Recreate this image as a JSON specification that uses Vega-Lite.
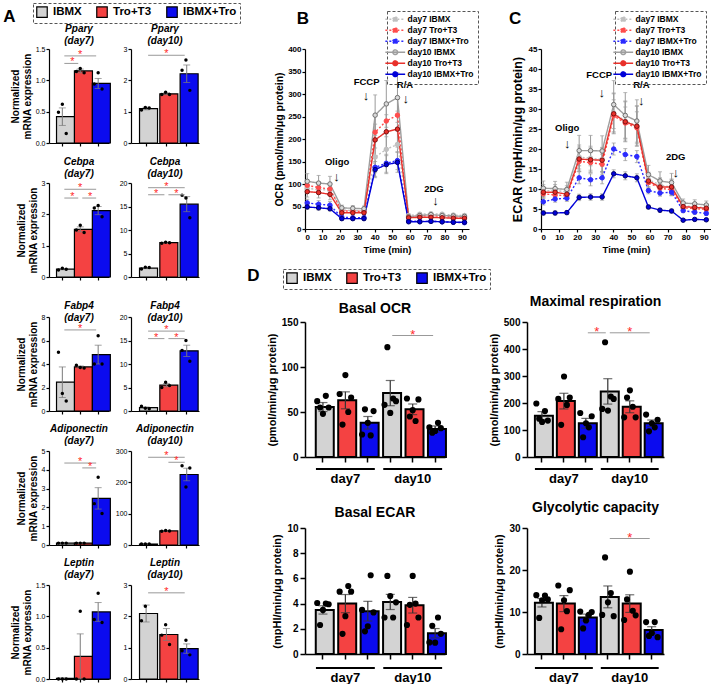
{
"$schema":"https://vega.github.io/schema/vega-lite/v6.json",
"background":"white",
"padding":{"left":3,"top":2,"right":0,"bottom":0},
"config":{
 "font":"Liberation Sans",
 "view":{"stroke":null},
 "axis":{"grid":false,"labelOverlap":false,"domainColor":"#000","tickColor":"#000","labelColor":"#000","titleColor":"#000","labelFontWeight":"bold","titleFontWeight":"bold","labelFont":"Liberation Sans","titleFont":"Liberation Sans","domainWidth":1.2,"tickWidth":1.2,"tickSize":3,"labelFontSize":7,"labelPadding":1,"titlePadding":3,"titleFontSize":10,"labelAngle":0},
 "legend":{"strokeColor":"#555","strokeDash":[3,2],"labelFont":"Liberation Sans","labelColor":"#000","labelFontWeight":"bold"},
 "title":{"font":"Liberation Sans","fontWeight":"bold","color":"#000"},
 "text":{"font":"Liberation Sans"}
},
"datasets":{
"aBar":[
{"p":"ppd7","g":"IBMX","m":0.42,"s":0.14},{"p":"ppd7","g":"Tro+T3","m":1.15,"s":0.03},{"p":"ppd7","g":"IBMX+Tro","m":0.95,"s":0.08},
{"p":"ppd10","g":"IBMX","m":1.1,"s":0.04},{"p":"ppd10","g":"Tro+T3","m":1.57,"s":0.03},{"p":"ppd10","g":"IBMX+Tro","m":2.21,"s":0.28},
{"p":"ced7","g":"IBMX","m":0.25,"s":0.02},{"p":"ced7","g":"Tro+T3","m":1.52,"s":0.08},{"p":"ced7","g":"IBMX+Tro","m":2.12,"s":0.13},
{"p":"ced10","g":"IBMX","m":1.9,"s":0.12},{"p":"ced10","g":"Tro+T3","m":7.3,"s":0.1},{"p":"ced10","g":"IBMX+Tro","m":15.5,"s":1.6},
{"p":"fad7","g":"IBMX","m":2.45,"s":1.3},{"p":"fad7","g":"Tro+T3","m":3.75,"s":0.08},{"p":"fad7","g":"IBMX+Tro","m":4.8,"s":0.8},
{"p":"fad10","g":"IBMX","m":0.7,"s":0.15},{"p":"fad10","g":"Tro+T3","m":5.5,"s":0.35},{"p":"fad10","g":"IBMX+Tro","m":12.8,"s":1.2},
{"p":"add7","g":"IBMX","m":0.1,"s":0.01},{"p":"add7","g":"Tro+T3","m":0.1,"s":0.01},{"p":"add7","g":"IBMX+Tro","m":2.48,"s":0.57},
{"p":"add10","g":"IBMX","m":3,"s":0.5},{"p":"add10","g":"Tro+T3","m":45,"s":0.7},{"p":"add10","g":"IBMX+Tro","m":225,"s":20},
{"p":"led7","g":"IBMX","m":0.01,"s":0},{"p":"led7","g":"Tro+T3","m":0.36,"s":0.36},{"p":"led7","g":"IBMX+Tro","m":1.07,"s":0.15},
{"p":"led10","g":"IBMX","m":2.09,"s":0.27},{"p":"led10","g":"Tro+T3","m":1.42,"s":0.19},{"p":"led10","g":"IBMX+Tro","m":0.97,"s":0.15}
],
"aPt":[
{"p":"ppd7","g":"IBMX","r":1,"v":0.49},{"p":"ppd7","g":"IBMX","r":2,"v":0.62},{"p":"ppd7","g":"IBMX","r":3,"v":0.15},
{"p":"ppd7","g":"Tro+T3","r":1,"v":1.14},{"p":"ppd7","g":"Tro+T3","r":2,"v":1.19},{"p":"ppd7","g":"Tro+T3","r":3,"v":1.12},
{"p":"ppd7","g":"IBMX+Tro","r":1,"v":0.94},{"p":"ppd7","g":"IBMX+Tro","r":2,"v":1.12},{"p":"ppd7","g":"IBMX+Tro","r":3,"v":0.86},
{"p":"ppd10","g":"IBMX","r":1,"v":1.05},{"p":"ppd10","g":"IBMX","r":2,"v":1.13},{"p":"ppd10","g":"IBMX","r":3,"v":1.12},
{"p":"ppd10","g":"Tro+T3","r":1,"v":1.55},{"p":"ppd10","g":"Tro+T3","r":2,"v":1.62},{"p":"ppd10","g":"Tro+T3","r":3,"v":1.55},
{"p":"ppd10","g":"IBMX+Tro","r":1,"v":2.32},{"p":"ppd10","g":"IBMX+Tro","r":2,"v":2.65},{"p":"ppd10","g":"IBMX+Tro","r":3,"v":1.68},
{"p":"ced7","g":"IBMX","r":1,"v":0.22},{"p":"ced7","g":"IBMX","r":2,"v":0.28},{"p":"ced7","g":"IBMX","r":3,"v":0.25},
{"p":"ced7","g":"Tro+T3","r":1,"v":1.5},{"p":"ced7","g":"Tro+T3","r":2,"v":1.65},{"p":"ced7","g":"Tro+T3","r":3,"v":1.42},
{"p":"ced7","g":"IBMX+Tro","r":1,"v":2.2},{"p":"ced7","g":"IBMX+Tro","r":2,"v":2.28},{"p":"ced7","g":"IBMX+Tro","r":3,"v":1.92},
{"p":"ced10","g":"IBMX","r":1,"v":1.7},{"p":"ced10","g":"IBMX","r":2,"v":2.1},{"p":"ced10","g":"IBMX","r":3,"v":2.0},
{"p":"ced10","g":"Tro+T3","r":1,"v":7.2},{"p":"ced10","g":"Tro+T3","r":2,"v":7.4},{"p":"ced10","g":"Tro+T3","r":3,"v":7.3},
{"p":"ced10","g":"IBMX+Tro","r":1,"v":17.4},{"p":"ced10","g":"IBMX+Tro","r":2,"v":16.8},{"p":"ced10","g":"IBMX+Tro","r":3,"v":12.6},
{"p":"fad7","g":"IBMX","r":1,"v":5.0},{"p":"fad7","g":"IBMX","r":2,"v":1.5},{"p":"fad7","g":"IBMX","r":3,"v":0.85},
{"p":"fad7","g":"Tro+T3","r":1,"v":3.9},{"p":"fad7","g":"Tro+T3","r":2,"v":3.7},{"p":"fad7","g":"Tro+T3","r":3,"v":3.65},
{"p":"fad7","g":"IBMX+Tro","r":1,"v":4.0},{"p":"fad7","g":"IBMX+Tro","r":2,"v":6.4},{"p":"fad7","g":"IBMX+Tro","r":3,"v":4.0},
{"p":"fad10","g":"IBMX","r":1,"v":1.0},{"p":"fad10","g":"IBMX","r":2,"v":0.6},{"p":"fad10","g":"IBMX","r":3,"v":0.5},
{"p":"fad10","g":"Tro+T3","r":1,"v":5.0},{"p":"fad10","g":"Tro+T3","r":2,"v":6.1},{"p":"fad10","g":"Tro+T3","r":3,"v":5.4},
{"p":"fad10","g":"IBMX+Tro","r":1,"v":12.9},{"p":"fad10","g":"IBMX+Tro","r":2,"v":15.0},{"p":"fad10","g":"IBMX+Tro","r":3,"v":10.6},
{"p":"add7","g":"IBMX","r":1,"v":0.1},{"p":"add7","g":"IBMX","r":2,"v":0.1},{"p":"add7","g":"IBMX","r":3,"v":0.1},
{"p":"add7","g":"Tro+T3","r":1,"v":0.1},{"p":"add7","g":"Tro+T3","r":2,"v":0.1},{"p":"add7","g":"Tro+T3","r":3,"v":0.1},
{"p":"add7","g":"IBMX+Tro","r":1,"v":2.2},{"p":"add7","g":"IBMX+Tro","r":2,"v":3.6},{"p":"add7","g":"IBMX+Tro","r":3,"v":1.68},
{"p":"add10","g":"IBMX","r":1,"v":3},{"p":"add10","g":"IBMX","r":2,"v":3},{"p":"add10","g":"IBMX","r":3,"v":3},
{"p":"add10","g":"Tro+T3","r":1,"v":44},{"p":"add10","g":"Tro+T3","r":2,"v":46},{"p":"add10","g":"Tro+T3","r":3,"v":45},
{"p":"add10","g":"IBMX+Tro","r":1,"v":253},{"p":"add10","g":"IBMX+Tro","r":2,"v":185},{"p":"add10","g":"IBMX+Tro","r":3,"v":246},
{"p":"led7","g":"IBMX","r":1,"v":0},{"p":"led7","g":"IBMX","r":2,"v":0},{"p":"led7","g":"IBMX","r":3,"v":0},
{"p":"led7","g":"Tro+T3","r":1,"v":0},{"p":"led7","g":"Tro+T3","r":2,"v":1.08},{"p":"led7","g":"Tro+T3","r":3,"v":0},
{"p":"led7","g":"IBMX+Tro","r":1,"v":0.95},{"p":"led7","g":"IBMX+Tro","r":2,"v":1.37},{"p":"led7","g":"IBMX+Tro","r":3,"v":0.9},
{"p":"led10","g":"IBMX","r":1,"v":1.86},{"p":"led10","g":"IBMX","r":2,"v":2.32},
{"p":"led10","g":"Tro+T3","r":1,"v":1.4},{"p":"led10","g":"Tro+T3","r":2,"v":1.73},{"p":"led10","g":"Tro+T3","r":3,"v":1.1},
{"p":"led10","g":"IBMX+Tro","r":1,"v":0.9},{"p":"led10","g":"IBMX+Tro","r":2,"v":1.24},{"p":"led10","g":"IBMX+Tro","r":3,"v":0.77}
],
"aSig":[
{"p":"ppd7","a":"IBMX","b":"Tro+T3","c":"IBMX","h":1,"y":1.27},{"p":"ppd7","a":"IBMX","b":"IBMX+Tro","c":"Tro+T3","h":0,"y":1.39},
{"p":"ppd10","a":"IBMX","b":"IBMX+Tro","c":"Tro+T3","h":0,"y":2.8},
{"p":"ced7","a":"IBMX","b":"IBMX+Tro","c":"Tro+T3","h":0,"y":2.8},{"p":"ced7","a":"IBMX","b":"Tro+T3","c":"IBMX","h":1,"y":2.52},{"p":"ced7","a":"Tro+T3","b":"IBMX+Tro","c":"Tro+T3","h":1,"y":2.52},
{"p":"ced10","a":"IBMX","b":"IBMX+Tro","c":"Tro+T3","h":0,"y":19.0},{"p":"ced10","a":"IBMX","b":"Tro+T3","c":"IBMX","h":1,"y":17.5},{"p":"ced10","a":"Tro+T3","b":"IBMX+Tro","c":"Tro+T3","h":1,"y":17.5},
{"p":"fad7","a":"IBMX","b":"IBMX+Tro","c":"Tro+T3","h":0,"y":6.9},
{"p":"fad10","a":"IBMX","b":"IBMX+Tro","c":"Tro+T3","h":0,"y":17.0},{"p":"fad10","a":"IBMX","b":"Tro+T3","c":"IBMX","h":1,"y":15.4},{"p":"fad10","a":"Tro+T3","b":"IBMX+Tro","c":"Tro+T3","h":1,"y":15.4},
{"p":"add7","a":"IBMX","b":"IBMX+Tro","c":"Tro+T3","h":0,"y":4.36},{"p":"add7","a":"Tro+T3","b":"IBMX+Tro","c":"Tro+T3","h":1,"y":4.1},
{"p":"add10","a":"IBMX","b":"IBMX+Tro","c":"Tro+T3","h":0,"y":280},{"p":"add10","a":"Tro+T3","b":"IBMX+Tro","c":"Tro+T3","h":1,"y":264},
{"p":"led10","a":"IBMX","b":"IBMX+Tro","c":"Tro+T3","h":0,"y":2.75}
],
"dBar":[
{"p":"bocr","g":"d7_IBMX","grp":"IBMX","m":55.5,"s":5},{"p":"bocr","g":"d7_TroT3","grp":"Tro+T3","m":63,"s":9.4},{"p":"bocr","g":"d7_IBMXTro","grp":"IBMX+Tro","m":38,"s":7},
{"p":"bocr","g":"d10_IBMX","grp":"IBMX","m":71,"s":14},{"p":"bocr","g":"d10_TroT3","grp":"Tro+T3","m":53,"s":5.9},{"p":"bocr","g":"d10_IBMXTro","grp":"IBMX+Tro","m":31,"s":3.5},
{"p":"maxr","g":"d7_IBMX","grp":"IBMX","m":153,"s":15},{"p":"maxr","g":"d7_TroT3","grp":"Tro+T3","m":207,"s":29},{"p":"maxr","g":"d7_IBMXTro","grp":"IBMX+Tro","m":125,"s":18},
{"p":"maxr","g":"d10_IBMX","grp":"IBMX","m":243,"s":47},{"p":"maxr","g":"d10_TroT3","grp":"Tro+T3","m":186,"s":22},{"p":"maxr","g":"d10_IBMXTro","grp":"IBMX+Tro","m":125,"s":12},
{"p":"becar","g":"d7_IBMX","grp":"IBMX","m":3.5,"s":0.33},{"p":"becar","g":"d7_TroT3","grp":"Tro+T3","m":4.0,"s":0.72},{"p":"becar","g":"d7_IBMXTro","grp":"IBMX+Tro","m":3.4,"s":0.78},
{"p":"becar","g":"d10_IBMX","grp":"IBMX","m":4.13,"s":0.6},{"p":"becar","g":"d10_TroT3","grp":"Tro+T3","m":3.87,"s":0.62},{"p":"becar","g":"d10_IBMXTro","grp":"IBMX+Tro","m":1.65,"s":0.37},
{"p":"glyc","g":"d7_IBMX","grp":"IBMX","m":12.2,"s":1.0},{"p":"glyc","g":"d7_TroT3","grp":"Tro+T3","m":12.0,"s":1.9},{"p":"glyc","g":"d7_IBMXTro","grp":"IBMX+Tro","m":8.7,"s":0.8},
{"p":"glyc","g":"d10_IBMX","grp":"IBMX","m":13.6,"s":2.6},{"p":"glyc","g":"d10_TroT3","grp":"Tro+T3","m":12.0,"s":2.1},{"p":"glyc","g":"d10_IBMXTro","grp":"IBMX+Tro","m":5.7,"s":0.8}
],
"dPt":[
{"p":"bocr","g":"d7_IBMX","r":1,"v":62},{"p":"bocr","g":"d7_IBMX","r":2,"v":55},{"p":"bocr","g":"d7_IBMX","r":3,"v":48},{"p":"bocr","g":"d7_IBMX","r":4,"v":68},{"p":"bocr","g":"d7_IBMX","r":5,"v":55},
{"p":"bocr","g":"d7_TroT3","r":1,"v":70},{"p":"bocr","g":"d7_TroT3","r":2,"v":36},{"p":"bocr","g":"d7_TroT3","r":3,"v":91},{"p":"bocr","g":"d7_TroT3","r":4,"v":50},{"p":"bocr","g":"d7_TroT3","r":5,"v":66},
{"p":"bocr","g":"d7_IBMXTro","r":1,"v":25},{"p":"bocr","g":"d7_IBMXTro","r":2,"v":53},{"p":"bocr","g":"d7_IBMXTro","r":3,"v":38},{"p":"bocr","g":"d7_IBMXTro","r":4,"v":24},{"p":"bocr","g":"d7_IBMXTro","r":5,"v":51},
{"p":"bocr","g":"d10_IBMX","r":1,"v":58},{"p":"bocr","g":"d10_IBMX","r":2,"v":122},{"p":"bocr","g":"d10_IBMX","r":3,"v":49},{"p":"bocr","g":"d10_IBMX","r":4,"v":65},{"p":"bocr","g":"d10_IBMX","r":5,"v":62},
{"p":"bocr","g":"d10_TroT3","r":1,"v":65},{"p":"bocr","g":"d10_TroT3","r":2,"v":45},{"p":"bocr","g":"d10_TroT3","r":3,"v":52},{"p":"bocr","g":"d10_TroT3","r":4,"v":40},{"p":"bocr","g":"d10_TroT3","r":5,"v":64},
{"p":"bocr","g":"d10_IBMXTro","r":1,"v":33},{"p":"bocr","g":"d10_IBMXTro","r":2,"v":27},{"p":"bocr","g":"d10_IBMXTro","r":3,"v":29},{"p":"bocr","g":"d10_IBMXTro","r":4,"v":38},{"p":"bocr","g":"d10_IBMXTro","r":5,"v":32},
{"p":"maxr","g":"d7_IBMX","r":1,"v":198},{"p":"maxr","g":"d7_IBMX","r":2,"v":142},{"p":"maxr","g":"d7_IBMX","r":3,"v":130},{"p":"maxr","g":"d7_IBMX","r":4,"v":170},{"p":"maxr","g":"d7_IBMX","r":5,"v":135},
{"p":"maxr","g":"d7_TroT3","r":1,"v":215},{"p":"maxr","g":"d7_TroT3","r":2,"v":119},{"p":"maxr","g":"d7_TroT3","r":3,"v":298},{"p":"maxr","g":"d7_TroT3","r":4,"v":193},{"p":"maxr","g":"d7_TroT3","r":5,"v":220},
{"p":"maxr","g":"d7_IBMXTro","r":1,"v":163},{"p":"maxr","g":"d7_IBMXTro","r":2,"v":73},{"p":"maxr","g":"d7_IBMXTro","r":3,"v":125},{"p":"maxr","g":"d7_IBMXTro","r":4,"v":110},{"p":"maxr","g":"d7_IBMXTro","r":5,"v":151},
{"p":"maxr","g":"d10_IBMX","r":1,"v":178},{"p":"maxr","g":"d10_IBMX","r":2,"v":425},{"p":"maxr","g":"d10_IBMX","r":3,"v":172},{"p":"maxr","g":"d10_IBMX","r":4,"v":224},{"p":"maxr","g":"d10_IBMX","r":5,"v":215},
{"p":"maxr","g":"d10_TroT3","r":1,"v":147},{"p":"maxr","g":"d10_TroT3","r":2,"v":220},{"p":"maxr","g":"d10_TroT3","r":3,"v":247},{"p":"maxr","g":"d10_TroT3","r":4,"v":186},{"p":"maxr","g":"d10_TroT3","r":5,"v":147},
{"p":"maxr","g":"d10_IBMXTro","r":1,"v":157},{"p":"maxr","g":"d10_IBMXTro","r":2,"v":95},{"p":"maxr","g":"d10_IBMXTro","r":3,"v":125},{"p":"maxr","g":"d10_IBMXTro","r":4,"v":110},{"p":"maxr","g":"d10_IBMXTro","r":5,"v":138},
{"p":"becar","g":"d7_IBMX","r":1,"v":4.05},{"p":"becar","g":"d7_IBMX","r":2,"v":2.3},{"p":"becar","g":"d7_IBMX","r":3,"v":3.5},{"p":"becar","g":"d7_IBMX","r":4,"v":4.0},{"p":"becar","g":"d7_IBMX","r":5,"v":3.95},
{"p":"becar","g":"d7_TroT3","r":1,"v":4.95},{"p":"becar","g":"d7_TroT3","r":2,"v":1.6},{"p":"becar","g":"d7_TroT3","r":3,"v":3.0},{"p":"becar","g":"d7_TroT3","r":4,"v":5.4},{"p":"becar","g":"d7_TroT3","r":5,"v":4.95},
{"p":"becar","g":"d7_IBMXTro","r":1,"v":3.5},{"p":"becar","g":"d7_IBMXTro","r":2,"v":1.8},{"p":"becar","g":"d7_IBMXTro","r":3,"v":2.2},{"p":"becar","g":"d7_IBMXTro","r":4,"v":6.25},{"p":"becar","g":"d7_IBMXTro","r":5,"v":3.3},
{"p":"becar","g":"d10_IBMX","r":1,"v":2.9},{"p":"becar","g":"d10_IBMX","r":2,"v":6.2},{"p":"becar","g":"d10_IBMX","r":3,"v":4.6},{"p":"becar","g":"d10_IBMX","r":4,"v":2.9},{"p":"becar","g":"d10_IBMX","r":5,"v":4.1},
{"p":"becar","g":"d10_TroT3","r":1,"v":2.3},{"p":"becar","g":"d10_TroT3","r":2,"v":3.9},{"p":"becar","g":"d10_TroT3","r":3,"v":6.2},{"p":"becar","g":"d10_TroT3","r":4,"v":4.0},{"p":"becar","g":"d10_TroT3","r":5,"v":2.9},
{"p":"becar","g":"d10_IBMXTro","r":1,"v":0.92},{"p":"becar","g":"d10_IBMXTro","r":2,"v":2.24},{"p":"becar","g":"d10_IBMXTro","r":3,"v":0.9},{"p":"becar","g":"d10_IBMXTro","r":4,"v":2.9},{"p":"becar","g":"d10_IBMXTro","r":5,"v":1.6},
{"p":"glyc","g":"d7_IBMX","r":1,"v":14.0},{"p":"glyc","g":"d7_IBMX","r":2,"v":8.6},{"p":"glyc","g":"d7_IBMX","r":3,"v":12.8},{"p":"glyc","g":"d7_IBMX","r":4,"v":13.9},{"p":"glyc","g":"d7_IBMX","r":5,"v":13.0},
{"p":"glyc","g":"d7_TroT3","r":1,"v":16.3},{"p":"glyc","g":"d7_TroT3","r":2,"v":5.9},{"p":"glyc","g":"d7_TroT3","r":3,"v":12.8},{"p":"glyc","g":"d7_TroT3","r":4,"v":10.2},{"p":"glyc","g":"d7_TroT3","r":5,"v":15.2},
{"p":"glyc","g":"d7_IBMXTro","r":1,"v":10.1},{"p":"glyc","g":"d7_IBMXTro","r":2,"v":6.1},{"p":"glyc","g":"d7_IBMXTro","r":3,"v":8.0},{"p":"glyc","g":"d7_IBMXTro","r":4,"v":9.3},{"p":"glyc","g":"d7_IBMXTro","r":5,"v":10.0},
{"p":"glyc","g":"d10_IBMX","r":1,"v":9.3},{"p":"glyc","g":"d10_IBMX","r":2,"v":23.0},{"p":"glyc","g":"d10_IBMX","r":3,"v":12.3},{"p":"glyc","g":"d10_IBMX","r":4,"v":14.5},{"p":"glyc","g":"d10_IBMX","r":5,"v":9.0},
{"p":"glyc","g":"d10_TroT3","r":1,"v":8.1},{"p":"glyc","g":"d10_TroT3","r":2,"v":13.0},{"p":"glyc","g":"d10_TroT3","r":3,"v":19.6},{"p":"glyc","g":"d10_TroT3","r":4,"v":10.3},{"p":"glyc","g":"d10_TroT3","r":5,"v":9.2},
{"p":"glyc","g":"d10_IBMXTro","r":1,"v":7.6},{"p":"glyc","g":"d10_IBMXTro","r":2,"v":4.3},{"p":"glyc","g":"d10_IBMXTro","r":3,"v":5.0},{"p":"glyc","g":"d10_IBMXTro","r":4,"v":7.6},{"p":"glyc","g":"d10_IBMXTro","r":5,"v":4.0}
],
"dSig":[
{"p":"bocr","a":"d10_IBMX","b":"d10_IBMXTro","c":"d10_TroT3","h":0,"y":135},
{"p":"maxr","a":"d7_IBMXTro","b":"d10_IBMX","c":"d7_IBMXTro","h":1,"y":460},
{"p":"maxr","a":"d10_IBMX","b":"d10_IBMXTro","c":"d10_TroT3","h":0,"y":460},
{"p":"glyc","a":"d10_IBMX","b":"d10_IBMXTro","c":"d10_TroT3","h":0,"y":27.5}
],
"grp":[{"a":"d7_IBMX","b":"d7_IBMXTro"},{"a":"d10_IBMX","b":"d10_IBMXTro"}],
"ann":[
{"p":"B","t":18.4,"v":149,"l":"Oligo"},{"p":"B","t":18.1,"v":116,"l":"↓"},{"p":"B","t":35.3,"v":327,"l":"FCCP"},{"p":"B","t":35,"v":296,"l":"↓"},
{"p":"B","t":57.3,"v":320,"l":"R/A"},{"p":"B","t":57.8,"v":288,"l":"↓"},{"p":"B","t":73.9,"v":89,"l":"2DG"},{"p":"B","t":74.8,"v":62,"l":"↓"},
{"p":"C","t":14.5,"v":25.2,"l":"Oligo"},{"p":"C","t":14.5,"v":21.2,"l":"↓"},{"p":"C","t":32.2,"v":38.4,"l":"FCCP"},{"p":"C","t":33.6,"v":34.0,"l":"↓"},
{"p":"C","t":55.5,"v":36.1,"l":"R/A"},{"p":"C","t":55.5,"v":32.0,"l":"↓"},{"p":"C","t":74.5,"v":17.9,"l":"2DG"},{"p":"C","t":74.5,"v":13.9,"l":"↓"}
],
"ocr":[
{"s":"day7 IBMX","t":1.3,"v":90,"e":10},{"s":"day7 IBMX","t":7.8,"v":88,"e":10},{"s":"day7 IBMX","t":14.3,"v":86,"e":10},{"s":"day7 IBMX","t":21.1,"v":42,"e":4},{"s":"day7 IBMX","t":27.4,"v":41,"e":4},{"s":"day7 IBMX","t":33.8,"v":40,"e":4},{"s":"day7 IBMX","t":40.2,"v":160,"e":35},{"s":"day7 IBMX","t":46.6,"v":177,"e":35},{"s":"day7 IBMX","t":53.0,"v":188,"e":35},{"s":"day7 IBMX","t":59.4,"v":30,"e":3},{"s":"day7 IBMX","t":65.8,"v":33,"e":3},{"s":"day7 IBMX","t":72.2,"v":34,"e":3},{"s":"day7 IBMX","t":78.6,"v":33,"e":3},{"s":"day7 IBMX","t":85.0,"v":31,"e":3},{"s":"day7 IBMX","t":91.4,"v":30,"e":3},
{"s":"day7 Tro+T3","t":1.3,"v":97,"e":12},{"s":"day7 Tro+T3","t":7.8,"v":92,"e":12},{"s":"day7 Tro+T3","t":14.3,"v":89,"e":12},{"s":"day7 Tro+T3","t":21.1,"v":40,"e":4},{"s":"day7 Tro+T3","t":27.4,"v":40,"e":4},{"s":"day7 Tro+T3","t":33.8,"v":39,"e":4},{"s":"day7 Tro+T3","t":40.2,"v":215,"e":35},{"s":"day7 Tro+T3","t":46.6,"v":240,"e":35},{"s":"day7 Tro+T3","t":53.0,"v":253,"e":35},{"s":"day7 Tro+T3","t":59.4,"v":27,"e":3},{"s":"day7 Tro+T3","t":65.8,"v":29,"e":3},{"s":"day7 Tro+T3","t":72.2,"v":30,"e":3},{"s":"day7 Tro+T3","t":78.6,"v":28,"e":3},{"s":"day7 Tro+T3","t":85.0,"v":27,"e":3},{"s":"day7 Tro+T3","t":91.4,"v":26,"e":3},
{"s":"day7 IBMX+Tro","t":1.3,"v":58,"e":8},{"s":"day7 IBMX+Tro","t":7.8,"v":55,"e":8},{"s":"day7 IBMX+Tro","t":14.3,"v":53,"e":8},{"s":"day7 IBMX+Tro","t":21.1,"v":26,"e":3},{"s":"day7 IBMX+Tro","t":27.4,"v":25,"e":3},{"s":"day7 IBMX+Tro","t":33.8,"v":25,"e":3},{"s":"day7 IBMX+Tro","t":40.2,"v":137,"e":20},{"s":"day7 IBMX+Tro","t":46.6,"v":146,"e":20},{"s":"day7 IBMX+Tro","t":53.0,"v":152,"e":20},{"s":"day7 IBMX+Tro","t":59.4,"v":18,"e":2},{"s":"day7 IBMX+Tro","t":65.8,"v":17,"e":2},{"s":"day7 IBMX+Tro","t":72.2,"v":17,"e":2},{"s":"day7 IBMX+Tro","t":78.6,"v":16,"e":2},{"s":"day7 IBMX+Tro","t":85.0,"v":15,"e":2},{"s":"day7 IBMX+Tro","t":91.4,"v":14,"e":2},
{"s":"day10 IBMX","t":1.3,"v":106,"e":17},{"s":"day10 IBMX","t":7.8,"v":102,"e":17},{"s":"day10 IBMX","t":14.3,"v":100,"e":17},{"s":"day10 IBMX","t":21.1,"v":47,"e":6},{"s":"day10 IBMX","t":27.4,"v":46,"e":6},{"s":"day10 IBMX","t":33.8,"v":45,"e":6},{"s":"day10 IBMX","t":40.2,"v":253,"e":45},{"s":"day10 IBMX","t":46.6,"v":278,"e":52},{"s":"day10 IBMX","t":53.0,"v":292,"e":55},{"s":"day10 IBMX","t":59.4,"v":27,"e":4},{"s":"day10 IBMX","t":65.8,"v":30,"e":4},{"s":"day10 IBMX","t":72.2,"v":32,"e":4},{"s":"day10 IBMX","t":78.6,"v":30,"e":4},{"s":"day10 IBMX","t":85.0,"v":29,"e":4},{"s":"day10 IBMX","t":91.4,"v":28,"e":4},
{"s":"day10 Tro+T3","t":1.3,"v":83,"e":12},{"s":"day10 Tro+T3","t":7.8,"v":81,"e":12},{"s":"day10 Tro+T3","t":14.3,"v":77,"e":12},{"s":"day10 Tro+T3","t":21.1,"v":36,"e":5},{"s":"day10 Tro+T3","t":27.4,"v":36,"e":5},{"s":"day10 Tro+T3","t":33.8,"v":36,"e":5},{"s":"day10 Tro+T3","t":40.2,"v":198,"e":35},{"s":"day10 Tro+T3","t":46.6,"v":216,"e":38},{"s":"day10 Tro+T3","t":53.0,"v":222,"e":40},{"s":"day10 Tro+T3","t":59.4,"v":25,"e":3},{"s":"day10 Tro+T3","t":65.8,"v":26,"e":3},{"s":"day10 Tro+T3","t":72.2,"v":26,"e":3},{"s":"day10 Tro+T3","t":78.6,"v":25,"e":3},{"s":"day10 Tro+T3","t":85.0,"v":24,"e":3},{"s":"day10 Tro+T3","t":91.4,"v":24,"e":3},
{"s":"day10 IBMX+Tro","t":1.3,"v":49,"e":5},{"s":"day10 IBMX+Tro","t":7.8,"v":47,"e":5},{"s":"day10 IBMX+Tro","t":14.3,"v":45,"e":5},{"s":"day10 IBMX+Tro","t":21.1,"v":23,"e":3},{"s":"day10 IBMX+Tro","t":27.4,"v":23,"e":3},{"s":"day10 IBMX+Tro","t":33.8,"v":23,"e":3},{"s":"day10 IBMX+Tro","t":40.2,"v":132,"e":18},{"s":"day10 IBMX+Tro","t":46.6,"v":143,"e":20},{"s":"day10 IBMX+Tro","t":53.0,"v":148,"e":22},{"s":"day10 IBMX+Tro","t":59.4,"v":16,"e":2},{"s":"day10 IBMX+Tro","t":65.8,"v":16,"e":2},{"s":"day10 IBMX+Tro","t":72.2,"v":17,"e":2},{"s":"day10 IBMX+Tro","t":78.6,"v":16,"e":2},{"s":"day10 IBMX+Tro","t":85.0,"v":15,"e":2},{"s":"day10 IBMX+Tro","t":91.4,"v":15,"e":2}
],
"ecar":[
{"s":"day7 IBMX","t":1.3,"v":9.6,"e":1.5},{"s":"day7 IBMX","t":7.8,"v":9.6,"e":1.5},{"s":"day7 IBMX","t":14.3,"v":9.3,"e":1.5},{"s":"day7 IBMX","t":21.1,"v":18.0,"e":3},{"s":"day7 IBMX","t":27.4,"v":17.7,"e":3},{"s":"day7 IBMX","t":33.8,"v":17.4,"e":3},{"s":"day7 IBMX","t":40.2,"v":29.0,"e":5},{"s":"day7 IBMX","t":46.6,"v":27.0,"e":5},{"s":"day7 IBMX","t":53.0,"v":25.8,"e":5},{"s":"day7 IBMX","t":59.4,"v":12.4,"e":1.8},{"s":"day7 IBMX","t":65.8,"v":11.0,"e":1.8},{"s":"day7 IBMX","t":72.2,"v":10.5,"e":1.8},{"s":"day7 IBMX","t":78.6,"v":5.8,"e":1},{"s":"day7 IBMX","t":85.0,"v":5.6,"e":1},{"s":"day7 IBMX","t":91.4,"v":5.3,"e":1},
{"s":"day7 Tro+T3","t":1.3,"v":8.8,"e":1},{"s":"day7 Tro+T3","t":7.8,"v":8.5,"e":1},{"s":"day7 Tro+T3","t":14.3,"v":8.3,"e":1},{"s":"day7 Tro+T3","t":21.1,"v":16.9,"e":2.5},{"s":"day7 Tro+T3","t":27.4,"v":16.6,"e":2.5},{"s":"day7 Tro+T3","t":33.8,"v":16.2,"e":2.5},{"s":"day7 Tro+T3","t":40.2,"v":28.3,"e":4},{"s":"day7 Tro+T3","t":46.6,"v":26.5,"e":4},{"s":"day7 Tro+T3","t":53.0,"v":25.3,"e":4},{"s":"day7 Tro+T3","t":59.4,"v":11.6,"e":1.5},{"s":"day7 Tro+T3","t":65.8,"v":10.2,"e":1.5},{"s":"day7 Tro+T3","t":72.2,"v":9.8,"e":1.5},{"s":"day7 Tro+T3","t":78.6,"v":5.3,"e":0.8},{"s":"day7 Tro+T3","t":85.0,"v":5.1,"e":0.8},{"s":"day7 Tro+T3","t":91.4,"v":4.9,"e":0.8},
{"s":"day7 IBMX+Tro","t":1.3,"v":6.8,"e":0.8},{"s":"day7 IBMX+Tro","t":7.8,"v":7.5,"e":0.8},{"s":"day7 IBMX+Tro","t":14.3,"v":7.7,"e":0.8},{"s":"day7 IBMX+Tro","t":21.1,"v":12.8,"e":1.5},{"s":"day7 IBMX+Tro","t":27.4,"v":12.3,"e":1.5},{"s":"day7 IBMX+Tro","t":33.8,"v":12.8,"e":1.5},{"s":"day7 IBMX+Tro","t":40.2,"v":20.0,"e":1.5},{"s":"day7 IBMX+Tro","t":46.6,"v":18.6,"e":1.5},{"s":"day7 IBMX+Tro","t":53.0,"v":18.1,"e":1.5},{"s":"day7 IBMX+Tro","t":59.4,"v":9.6,"e":0.8},{"s":"day7 IBMX+Tro","t":65.8,"v":9.0,"e":0.8},{"s":"day7 IBMX+Tro","t":72.2,"v":9.2,"e":0.8},{"s":"day7 IBMX+Tro","t":78.6,"v":4.6,"e":0.5},{"s":"day7 IBMX+Tro","t":85.0,"v":4.2,"e":0.5},{"s":"day7 IBMX+Tro","t":91.4,"v":3.9,"e":0.5},
{"s":"day10 IBMX","t":1.3,"v":10.2,"e":1.8},{"s":"day10 IBMX","t":7.8,"v":10.1,"e":1.8},{"s":"day10 IBMX","t":14.3,"v":9.9,"e":1.8},{"s":"day10 IBMX","t":21.1,"v":19.6,"e":3.8},{"s":"day10 IBMX","t":27.4,"v":19.6,"e":3.8},{"s":"day10 IBMX","t":33.8,"v":19.5,"e":3.8},{"s":"day10 IBMX","t":40.2,"v":31.1,"e":6},{"s":"day10 IBMX","t":46.6,"v":28.4,"e":5.7},{"s":"day10 IBMX","t":53.0,"v":27.0,"e":5.3},{"s":"day10 IBMX","t":59.4,"v":13.6,"e":2.3},{"s":"day10 IBMX","t":65.8,"v":12.0,"e":2.3},{"s":"day10 IBMX","t":72.2,"v":11.6,"e":2.3},{"s":"day10 IBMX","t":78.6,"v":6.5,"e":1},{"s":"day10 IBMX","t":85.0,"v":6.3,"e":1},{"s":"day10 IBMX","t":91.4,"v":6.0,"e":1},
{"s":"day10 Tro+T3","t":1.3,"v":9.2,"e":1.2},{"s":"day10 Tro+T3","t":7.8,"v":9.2,"e":1.2},{"s":"day10 Tro+T3","t":14.3,"v":8.7,"e":1.2},{"s":"day10 Tro+T3","t":21.1,"v":17.5,"e":3},{"s":"day10 Tro+T3","t":27.4,"v":17.3,"e":3},{"s":"day10 Tro+T3","t":33.8,"v":17.2,"e":3},{"s":"day10 Tro+T3","t":40.2,"v":28.8,"e":5},{"s":"day10 Tro+T3","t":46.6,"v":26.8,"e":5},{"s":"day10 Tro+T3","t":53.0,"v":25.7,"e":5},{"s":"day10 Tro+T3","t":59.4,"v":12.0,"e":2},{"s":"day10 Tro+T3","t":65.8,"v":10.5,"e":2},{"s":"day10 Tro+T3","t":72.2,"v":10.5,"e":2},{"s":"day10 Tro+T3","t":78.6,"v":5.6,"e":0.8},{"s":"day10 Tro+T3","t":85.0,"v":5.4,"e":0.8},{"s":"day10 Tro+T3","t":91.4,"v":5.2,"e":0.8},
{"s":"day10 IBMX+Tro","t":1.3,"v":4.0,"e":0.5},{"s":"day10 IBMX+Tro","t":7.8,"v":4.0,"e":0.5},{"s":"day10 IBMX+Tro","t":14.3,"v":4.1,"e":0.5},{"s":"day10 IBMX+Tro","t":21.1,"v":7.9,"e":0.8},{"s":"day10 IBMX+Tro","t":27.4,"v":8.0,"e":0.8},{"s":"day10 IBMX+Tro","t":33.8,"v":8.0,"e":0.8},{"s":"day10 IBMX+Tro","t":40.2,"v":13.8,"e":1},{"s":"day10 IBMX+Tro","t":46.6,"v":13.3,"e":1},{"s":"day10 IBMX+Tro","t":53.0,"v":12.8,"e":1},{"s":"day10 IBMX+Tro","t":59.4,"v":5.5,"e":0.5},{"s":"day10 IBMX+Tro","t":65.8,"v":4.7,"e":0.5},{"s":"day10 IBMX+Tro","t":72.2,"v":4.5,"e":0.5},{"s":"day10 IBMX+Tro","t":78.6,"v":2.2,"e":0.3},{"s":"day10 IBMX+Tro","t":85.0,"v":2.4,"e":0.3},{"s":"day10 IBMX+Tro","t":91.4,"v":2.3,"e":0.3}
]
},
"hconcat":[
{
"concat":[
{"width":60,"height":94,"title":{"text":["Pparγ","(day7)"],"fontStyle":"italic","fontSize":10,"lineHeight":12,"offset":-1,"frame":"group"},
"layer":[
{"data":{"name":"aBar"},"transform":[{"filter":"datum.p=='ppd7'"}],"mark":{"type":"bar","stroke":"#000","strokeWidth":1.2},
"encoding":{"x":{"field":"g","type":"nominal","title":null,"scale":{"domain":["IBMX","Tro+T3","IBMX+Tro"],"paddingInner":0.35,"paddingOuter":0.35,"align":0.6},"axis":{"labels":false}},
"y":{"field":"m","type":"quantitative","title":["Normalized","mRNA expression"],"scale":{"domain":[0,1.5],"nice":false},"axis":{"values":[0,0.5,1,1.5],"tickCount":20,"format":".1f","labelFontWeight":"normal","labelOverlap":false}},
"color":{"field":"g","type":"nominal","scale":{"domain":["IBMX","Tro+T3","IBMX+Tro"],"range":["#D3D3D3","#F44242","#0B0BEF"]},
"legend":{"title":null,"orient":"none","legendX":-16,"legendY":-46,"direction":"horizontal","columns":3,"symbolType":"square","symbolSize":110,"symbolStrokeColor":"#000","symbolStrokeWidth":1.2,"labelFontSize":11.5,"labelOffset":5,"columnPadding":12,"padding":3,"encode":{"symbols":{"update":{"stroke":{"value":"#000"},"strokeWidth":{"value":1.2}}}}}}}},
{"data":{"name":"aBar"},"transform":[{"filter":"datum.p=='ppd7'"}],"mark":{"type":"errorbar","ticks":{"size":7},"color":"#7a7a7a","thickness":1},"encoding":{"x":{"field":"g","type":"nominal","title":null},"y":{"field":"m","type":"quantitative","title":["Normalized","mRNA expression"]},"yError":{"field":"s"}}},
{"data":{"name":"aPt"},"transform":[{"filter":"datum.p=='ppd7'"}],"mark":{"type":"circle","color":"#000","size":12,"opacity":1},"encoding":{"x":{"field":"g","type":"nominal","title":null},"xOffset":{"field":"r","type":"nominal"},"y":{"field":"v","type":"quantitative"}}},
{"data":{"name":"aSig"},"transform":[{"filter":"datum.p=='ppd7'"}],"mark":{"type":"rule","color":"#999","strokeWidth":1,"xOffset":2,"x2Offset":-2},"encoding":{"x":{"field":"a","type":"nominal","title":null},"x2":{"field":"b"},"y":{"field":"y","type":"quantitative"}}},
{"data":{"name":"aSig"},"transform":[{"filter":"datum.p=='ppd7'&&datum.h==0"}],"mark":{"type":"text","text":"*","color":"#FF2A2A","fontSize":11,"dy":-1},"encoding":{"x":{"field":"c","type":"nominal","title":null},"y":{"field":"y","type":"quantitative"}}},
{"data":{"name":"aSig"},"transform":[{"filter":"datum.p=='ppd7'&&datum.h==1"}],"mark":{"type":"text","text":"*","color":"#FF2A2A","fontSize":11,"dy":-1,"dx":10},"encoding":{"x":{"field":"c","type":"nominal","title":null},"y":{"field":"y","type":"quantitative"}}}
]},
{"width":68,"height":94,"title":{"text":["Pparγ","(day10)"],"fontStyle":"italic","fontSize":10,"lineHeight":12,"offset":-1,"frame":"group"},
"layer":[
{"data":{"name":"aBar"},"transform":[{"filter":"datum.p=='ppd10'"}],"mark":{"type":"bar","stroke":"#000","strokeWidth":1.2},
"encoding":{"x":{"field":"g","type":"nominal","title":null,"scale":{"domain":["IBMX","Tro+T3","IBMX+Tro"],"paddingInner":0.35,"paddingOuter":0.35,"align":0.6},"axis":{"labels":false}},
"y":{"field":"m","type":"quantitative","title":null,"scale":{"domain":[0,3],"nice":false},"axis":{"values":[0,1,2,3],"tickCount":20,"format":"d","labelFontWeight":"normal","labelOverlap":false}},
"color":{"field":"g","type":"nominal","scale":{"domain":["IBMX","Tro+T3","IBMX+Tro"],"range":["#D3D3D3","#F44242","#0B0BEF"]}}}},
{"data":{"name":"aBar"},"transform":[{"filter":"datum.p=='ppd10'"}],"mark":{"type":"errorbar","ticks":{"size":7},"color":"#7a7a7a","thickness":1},"encoding":{"x":{"field":"g","type":"nominal","title":null},"y":{"field":"m","type":"quantitative","title":null},"yError":{"field":"s"}}},
{"data":{"name":"aPt"},"transform":[{"filter":"datum.p=='ppd10'"}],"mark":{"type":"circle","color":"#000","size":12,"opacity":1},"encoding":{"x":{"field":"g","type":"nominal","title":null},"xOffset":{"field":"r","type":"nominal"},"y":{"field":"v","type":"quantitative"}}},
{"data":{"name":"aSig"},"transform":[{"filter":"datum.p=='ppd10'"}],"mark":{"type":"rule","color":"#999","strokeWidth":1,"xOffset":2,"x2Offset":-2},"encoding":{"x":{"field":"a","type":"nominal","title":null},"x2":{"field":"b"},"y":{"field":"y","type":"quantitative"}}},
{"data":{"name":"aSig"},"transform":[{"filter":"datum.p=='ppd10'&&datum.h==0"}],"mark":{"type":"text","text":"*","color":"#FF2A2A","fontSize":11,"dy":-1},"encoding":{"x":{"field":"c","type":"nominal","title":null},"y":{"field":"y","type":"quantitative"}}}
]},
{"width":60,"height":94,"title":{"text":["Cebpa","(day7)"],"fontStyle":"italic","fontSize":10,"lineHeight":12,"offset":0,"frame":"group"},
"layer":[
{"data":{"name":"aBar"},"transform":[{"filter":"datum.p=='ced7'"}],"mark":{"type":"bar","stroke":"#000","strokeWidth":1.2},
"encoding":{"x":{"field":"g","type":"nominal","title":null,"scale":{"domain":["IBMX","Tro+T3","IBMX+Tro"],"paddingInner":0.35,"paddingOuter":0.35,"align":0.6},"axis":{"labels":false}},
"y":{"field":"m","type":"quantitative","title":["Normalized","mRNA expression"],"scale":{"domain":[0,3],"nice":false},"axis":{"values":[0,1,2,3],"tickCount":20,"format":"d","labelFontWeight":"normal","labelOverlap":false}},
"color":{"field":"g","type":"nominal","scale":{"domain":["IBMX","Tro+T3","IBMX+Tro"],"range":["#D3D3D3","#F44242","#0B0BEF"]}}}},
{"data":{"name":"aBar"},"transform":[{"filter":"datum.p=='ced7'"}],"mark":{"type":"errorbar","ticks":{"size":7},"color":"#7a7a7a","thickness":1},"encoding":{"x":{"field":"g","type":"nominal","title":null},"y":{"field":"m","type":"quantitative","title":["Normalized","mRNA expression"]},"yError":{"field":"s"}}},
{"data":{"name":"aPt"},"transform":[{"filter":"datum.p=='ced7'"}],"mark":{"type":"circle","color":"#000","size":12,"opacity":1},"encoding":{"x":{"field":"g","type":"nominal","title":null},"xOffset":{"field":"r","type":"nominal"},"y":{"field":"v","type":"quantitative"}}},
{"data":{"name":"aSig"},"transform":[{"filter":"datum.p=='ced7'"}],"mark":{"type":"rule","color":"#999","strokeWidth":1,"xOffset":2,"x2Offset":-2},"encoding":{"x":{"field":"a","type":"nominal","title":null},"x2":{"field":"b"},"y":{"field":"y","type":"quantitative"}}},
{"data":{"name":"aSig"},"transform":[{"filter":"datum.p=='ced7'&&datum.h==0"}],"mark":{"type":"text","text":"*","color":"#FF2A2A","fontSize":11,"dy":-1},"encoding":{"x":{"field":"c","type":"nominal","title":null},"y":{"field":"y","type":"quantitative"}}},
{"data":{"name":"aSig"},"transform":[{"filter":"datum.p=='ced7'&&datum.h==1"}],"mark":{"type":"text","text":"*","color":"#FF2A2A","fontSize":11,"dy":-1,"dx":10},"encoding":{"x":{"field":"c","type":"nominal","title":null},"y":{"field":"y","type":"quantitative"}}}
]},
{"width":68,"height":94,"title":{"text":["Cebpa","(day10)"],"fontStyle":"italic","fontSize":10,"lineHeight":12,"offset":0,"frame":"group"},
"layer":[
{"data":{"name":"aBar"},"transform":[{"filter":"datum.p=='ced10'"}],"mark":{"type":"bar","stroke":"#000","strokeWidth":1.2},
"encoding":{"x":{"field":"g","type":"nominal","title":null,"scale":{"domain":["IBMX","Tro+T3","IBMX+Tro"],"paddingInner":0.35,"paddingOuter":0.35,"align":0.6},"axis":{"labels":false}},
"y":{"field":"m","type":"quantitative","title":null,"scale":{"domain":[0,20],"nice":false},"axis":{"values":[0,5,10,15,20],"tickCount":20,"format":"d","labelFontWeight":"normal","labelOverlap":false}},
"color":{"field":"g","type":"nominal","scale":{"domain":["IBMX","Tro+T3","IBMX+Tro"],"range":["#D3D3D3","#F44242","#0B0BEF"]}}}},
{"data":{"name":"aBar"},"transform":[{"filter":"datum.p=='ced10'"}],"mark":{"type":"errorbar","ticks":{"size":7},"color":"#7a7a7a","thickness":1},"encoding":{"x":{"field":"g","type":"nominal","title":null},"y":{"field":"m","type":"quantitative","title":null},"yError":{"field":"s"}}},
{"data":{"name":"aPt"},"transform":[{"filter":"datum.p=='ced10'"}],"mark":{"type":"circle","color":"#000","size":12,"opacity":1},"encoding":{"x":{"field":"g","type":"nominal","title":null},"xOffset":{"field":"r","type":"nominal"},"y":{"field":"v","type":"quantitative"}}},
{"data":{"name":"aSig"},"transform":[{"filter":"datum.p=='ced10'"}],"mark":{"type":"rule","color":"#999","strokeWidth":1,"xOffset":2,"x2Offset":-2},"encoding":{"x":{"field":"a","type":"nominal","title":null},"x2":{"field":"b"},"y":{"field":"y","type":"quantitative"}}},
{"data":{"name":"aSig"},"transform":[{"filter":"datum.p=='ced10'&&datum.h==0"}],"mark":{"type":"text","text":"*","color":"#FF2A2A","fontSize":11,"dy":-1},"encoding":{"x":{"field":"c","type":"nominal","title":null},"y":{"field":"y","type":"quantitative"}}},
{"data":{"name":"aSig"},"transform":[{"filter":"datum.p=='ced10'&&datum.h==1"}],"mark":{"type":"text","text":"*","color":"#FF2A2A","fontSize":11,"dy":-1,"dx":10},"encoding":{"x":{"field":"c","type":"nominal","title":null},"y":{"field":"y","type":"quantitative"}}}
]},
{"width":60,"height":94,"title":{"text":["Fabp4","(day7)"],"fontStyle":"italic","fontSize":10,"lineHeight":12,"offset":-10,"frame":"group"},
"layer":[
{"data":{"name":"aBar"},"transform":[{"filter":"datum.p=='fad7'"}],"mark":{"type":"bar","stroke":"#000","strokeWidth":1.2},
"encoding":{"x":{"field":"g","type":"nominal","title":null,"scale":{"domain":["IBMX","Tro+T3","IBMX+Tro"],"paddingInner":0.35,"paddingOuter":0.35,"align":0.6},"axis":{"labels":false}},
"y":{"field":"m","type":"quantitative","title":["Normalized","mRNA expression"],"scale":{"domain":[0,8],"nice":false},"axis":{"values":[0,2,4,6,8],"tickCount":20,"format":"d","labelFontWeight":"normal","labelOverlap":false}},
"color":{"field":"g","type":"nominal","scale":{"domain":["IBMX","Tro+T3","IBMX+Tro"],"range":["#D3D3D3","#F44242","#0B0BEF"]}}}},
{"data":{"name":"aBar"},"transform":[{"filter":"datum.p=='fad7'"}],"mark":{"type":"errorbar","ticks":{"size":7},"color":"#7a7a7a","thickness":1},"encoding":{"x":{"field":"g","type":"nominal","title":null},"y":{"field":"m","type":"quantitative","title":["Normalized","mRNA expression"]},"yError":{"field":"s"}}},
{"data":{"name":"aPt"},"transform":[{"filter":"datum.p=='fad7'"}],"mark":{"type":"circle","color":"#000","size":12,"opacity":1},"encoding":{"x":{"field":"g","type":"nominal","title":null},"xOffset":{"field":"r","type":"nominal"},"y":{"field":"v","type":"quantitative"}}},
{"data":{"name":"aSig"},"transform":[{"filter":"datum.p=='fad7'"}],"mark":{"type":"rule","color":"#999","strokeWidth":1,"xOffset":2,"x2Offset":-2},"encoding":{"x":{"field":"a","type":"nominal","title":null},"x2":{"field":"b"},"y":{"field":"y","type":"quantitative"}}},
{"data":{"name":"aSig"},"transform":[{"filter":"datum.p=='fad7'&&datum.h==0"}],"mark":{"type":"text","text":"*","color":"#FF2A2A","fontSize":11,"dy":-1},"encoding":{"x":{"field":"c","type":"nominal","title":null},"y":{"field":"y","type":"quantitative"}}}
]},
{"width":68,"height":94,"title":{"text":["Fabp4","(day10)"],"fontStyle":"italic","fontSize":10,"lineHeight":12,"offset":-10,"frame":"group"},
"layer":[
{"data":{"name":"aBar"},"transform":[{"filter":"datum.p=='fad10'"}],"mark":{"type":"bar","stroke":"#000","strokeWidth":1.2},
"encoding":{"x":{"field":"g","type":"nominal","title":null,"scale":{"domain":["IBMX","Tro+T3","IBMX+Tro"],"paddingInner":0.35,"paddingOuter":0.35,"align":0.6},"axis":{"labels":false}},
"y":{"field":"m","type":"quantitative","title":null,"scale":{"domain":[0,20],"nice":false},"axis":{"values":[0,5,10,15,20],"tickCount":20,"format":"d","labelFontWeight":"normal","labelOverlap":false}},
"color":{"field":"g","type":"nominal","scale":{"domain":["IBMX","Tro+T3","IBMX+Tro"],"range":["#D3D3D3","#F44242","#0B0BEF"]}}}},
{"data":{"name":"aBar"},"transform":[{"filter":"datum.p=='fad10'"}],"mark":{"type":"errorbar","ticks":{"size":7},"color":"#7a7a7a","thickness":1},"encoding":{"x":{"field":"g","type":"nominal","title":null},"y":{"field":"m","type":"quantitative","title":null},"yError":{"field":"s"}}},
{"data":{"name":"aPt"},"transform":[{"filter":"datum.p=='fad10'"}],"mark":{"type":"circle","color":"#000","size":12,"opacity":1},"encoding":{"x":{"field":"g","type":"nominal","title":null},"xOffset":{"field":"r","type":"nominal"},"y":{"field":"v","type":"quantitative"}}},
{"data":{"name":"aSig"},"transform":[{"filter":"datum.p=='fad10'"}],"mark":{"type":"rule","color":"#999","strokeWidth":1,"xOffset":2,"x2Offset":-2},"encoding":{"x":{"field":"a","type":"nominal","title":null},"x2":{"field":"b"},"y":{"field":"y","type":"quantitative"}}},
{"data":{"name":"aSig"},"transform":[{"filter":"datum.p=='fad10'&&datum.h==0"}],"mark":{"type":"text","text":"*","color":"#FF2A2A","fontSize":11,"dy":-1},"encoding":{"x":{"field":"c","type":"nominal","title":null},"y":{"field":"y","type":"quantitative"}}},
{"data":{"name":"aSig"},"transform":[{"filter":"datum.p=='fad10'&&datum.h==1"}],"mark":{"type":"text","text":"*","color":"#FF2A2A","fontSize":11,"dy":-1,"dx":10},"encoding":{"x":{"field":"c","type":"nominal","title":null},"y":{"field":"y","type":"quantitative"}}}
]},
{"width":60,"height":94,"title":{"text":["Adiponectin","(day7)"],"fontStyle":"italic","fontSize":10,"lineHeight":12,"offset":1,"frame":"group"},
"layer":[
{"data":{"name":"aBar"},"transform":[{"filter":"datum.p=='add7'"}],"mark":{"type":"bar","stroke":"#000","strokeWidth":1.2},
"encoding":{"x":{"field":"g","type":"nominal","title":null,"scale":{"domain":["IBMX","Tro+T3","IBMX+Tro"],"paddingInner":0.35,"paddingOuter":0.35,"align":0.6},"axis":{"labels":false}},
"y":{"field":"m","type":"quantitative","title":["Normalized","mRNA expression"],"scale":{"domain":[0,5],"nice":false},"axis":{"values":[0,1,2,3,4,5],"tickCount":20,"format":"d","labelFontWeight":"normal","labelOverlap":false}},
"color":{"field":"g","type":"nominal","scale":{"domain":["IBMX","Tro+T3","IBMX+Tro"],"range":["#D3D3D3","#F44242","#0B0BEF"]}}}},
{"data":{"name":"aBar"},"transform":[{"filter":"datum.p=='add7'"}],"mark":{"type":"errorbar","ticks":{"size":7},"color":"#7a7a7a","thickness":1},"encoding":{"x":{"field":"g","type":"nominal","title":null},"y":{"field":"m","type":"quantitative","title":["Normalized","mRNA expression"]},"yError":{"field":"s"}}},
{"data":{"name":"aPt"},"transform":[{"filter":"datum.p=='add7'"}],"mark":{"type":"circle","color":"#000","size":12,"opacity":1},"encoding":{"x":{"field":"g","type":"nominal","title":null},"xOffset":{"field":"r","type":"nominal"},"y":{"field":"v","type":"quantitative"}}},
{"data":{"name":"aSig"},"transform":[{"filter":"datum.p=='add7'"}],"mark":{"type":"rule","color":"#999","strokeWidth":1,"xOffset":2,"x2Offset":-2},"encoding":{"x":{"field":"a","type":"nominal","title":null},"x2":{"field":"b"},"y":{"field":"y","type":"quantitative"}}},
{"data":{"name":"aSig"},"transform":[{"filter":"datum.p=='add7'&&datum.h==0"}],"mark":{"type":"text","text":"*","color":"#FF2A2A","fontSize":11,"dy":-1},"encoding":{"x":{"field":"c","type":"nominal","title":null},"y":{"field":"y","type":"quantitative"}}},
{"data":{"name":"aSig"},"transform":[{"filter":"datum.p=='add7'&&datum.h==1"}],"mark":{"type":"text","text":"*","color":"#FF2A2A","fontSize":11,"dy":-1,"dx":10},"encoding":{"x":{"field":"c","type":"nominal","title":null},"y":{"field":"y","type":"quantitative"}}}
]},
{"width":68,"height":94,"title":{"text":["Adiponectin","(day10)"],"fontStyle":"italic","fontSize":10,"lineHeight":12,"offset":1,"frame":"group"},
"layer":[
{"data":{"name":"aBar"},"transform":[{"filter":"datum.p=='add10'"}],"mark":{"type":"bar","stroke":"#000","strokeWidth":1.2},
"encoding":{"x":{"field":"g","type":"nominal","title":null,"scale":{"domain":["IBMX","Tro+T3","IBMX+Tro"],"paddingInner":0.35,"paddingOuter":0.35,"align":0.6},"axis":{"labels":false}},
"y":{"field":"m","type":"quantitative","title":null,"scale":{"domain":[0,300],"nice":false},"axis":{"values":[0,100,200,300],"tickCount":20,"format":"d","labelFontWeight":"normal","labelOverlap":false}},
"color":{"field":"g","type":"nominal","scale":{"domain":["IBMX","Tro+T3","IBMX+Tro"],"range":["#D3D3D3","#F44242","#0B0BEF"]}}}},
{"data":{"name":"aBar"},"transform":[{"filter":"datum.p=='add10'"}],"mark":{"type":"errorbar","ticks":{"size":7},"color":"#7a7a7a","thickness":1},"encoding":{"x":{"field":"g","type":"nominal","title":null},"y":{"field":"m","type":"quantitative","title":null},"yError":{"field":"s"}}},
{"data":{"name":"aPt"},"transform":[{"filter":"datum.p=='add10'"}],"mark":{"type":"circle","color":"#000","size":12,"opacity":1},"encoding":{"x":{"field":"g","type":"nominal","title":null},"xOffset":{"field":"r","type":"nominal"},"y":{"field":"v","type":"quantitative"}}},
{"data":{"name":"aSig"},"transform":[{"filter":"datum.p=='add10'"}],"mark":{"type":"rule","color":"#999","strokeWidth":1,"xOffset":2,"x2Offset":-2},"encoding":{"x":{"field":"a","type":"nominal","title":null},"x2":{"field":"b"},"y":{"field":"y","type":"quantitative"}}},
{"data":{"name":"aSig"},"transform":[{"filter":"datum.p=='add10'&&datum.h==0"}],"mark":{"type":"text","text":"*","color":"#FF2A2A","fontSize":11,"dy":-1},"encoding":{"x":{"field":"c","type":"nominal","title":null},"y":{"field":"y","type":"quantitative"}}},
{"data":{"name":"aSig"},"transform":[{"filter":"datum.p=='add10'&&datum.h==1"}],"mark":{"type":"text","text":"*","color":"#FF2A2A","fontSize":11,"dy":-1,"dx":10},"encoding":{"x":{"field":"c","type":"nominal","title":null},"y":{"field":"y","type":"quantitative"}}}
]},
{"width":60,"height":94,"title":{"text":["Leptin","(day7)"],"fontStyle":"italic","fontSize":10,"lineHeight":12,"offset":1,"frame":"group"},
"layer":[
{"data":{"name":"aBar"},"transform":[{"filter":"datum.p=='led7'"}],"mark":{"type":"bar","stroke":"#000","strokeWidth":1.2},
"encoding":{"x":{"field":"g","type":"nominal","title":null,"scale":{"domain":["IBMX","Tro+T3","IBMX+Tro"],"paddingInner":0.35,"paddingOuter":0.35,"align":0.6},"axis":{"labels":false}},
"y":{"field":"m","type":"quantitative","title":["Normalized","mRNA expression"],"scale":{"domain":[0,1.5],"nice":false},"axis":{"values":[0,0.5,1,1.5],"tickCount":20,"format":".1f","labelFontWeight":"normal","labelOverlap":false}},
"color":{"field":"g","type":"nominal","scale":{"domain":["IBMX","Tro+T3","IBMX+Tro"],"range":["#D3D3D3","#F44242","#0B0BEF"]}}}},
{"data":{"name":"aBar"},"transform":[{"filter":"datum.p=='led7'"}],"mark":{"type":"errorbar","ticks":{"size":7},"color":"#7a7a7a","thickness":1},"encoding":{"x":{"field":"g","type":"nominal","title":null},"y":{"field":"m","type":"quantitative","title":["Normalized","mRNA expression"]},"yError":{"field":"s"}}},
{"data":{"name":"aPt"},"transform":[{"filter":"datum.p=='led7'"}],"mark":{"type":"circle","color":"#000","size":12,"opacity":1},"encoding":{"x":{"field":"g","type":"nominal","title":null},"xOffset":{"field":"r","type":"nominal"},"y":{"field":"v","type":"quantitative"}}}
]},
{"width":68,"height":94,"title":{"text":["Leptin","(day10)"],"fontStyle":"italic","fontSize":10,"lineHeight":12,"offset":1,"frame":"group"},
"layer":[
{"data":{"name":"aBar"},"transform":[{"filter":"datum.p=='led10'"}],"mark":{"type":"bar","stroke":"#000","strokeWidth":1.2},
"encoding":{"x":{"field":"g","type":"nominal","title":null,"scale":{"domain":["IBMX","Tro+T3","IBMX+Tro"],"paddingInner":0.35,"paddingOuter":0.35,"align":0.6},"axis":{"labels":false}},
"y":{"field":"m","type":"quantitative","title":null,"scale":{"domain":[0,3],"nice":false},"axis":{"values":[0,1,2,3],"tickCount":20,"format":"d","labelFontWeight":"normal","labelOverlap":false}},
"color":{"field":"g","type":"nominal","scale":{"domain":["IBMX","Tro+T3","IBMX+Tro"],"range":["#D3D3D3","#F44242","#0B0BEF"]}}}},
{"data":{"name":"aBar"},"transform":[{"filter":"datum.p=='led10'"}],"mark":{"type":"errorbar","ticks":{"size":7},"color":"#7a7a7a","thickness":1},"encoding":{"x":{"field":"g","type":"nominal","title":null},"y":{"field":"m","type":"quantitative","title":null},"yError":{"field":"s"}}},
{"data":{"name":"aPt"},"transform":[{"filter":"datum.p=='led10'"}],"mark":{"type":"circle","color":"#000","size":12,"opacity":1},"encoding":{"x":{"field":"g","type":"nominal","title":null},"xOffset":{"field":"r","type":"nominal"},"y":{"field":"v","type":"quantitative"}}},
{"data":{"name":"aSig"},"transform":[{"filter":"datum.p=='led10'"}],"mark":{"type":"rule","color":"#999","strokeWidth":1,"xOffset":2,"x2Offset":-2},"encoding":{"x":{"field":"a","type":"nominal","title":null},"x2":{"field":"b"},"y":{"field":"y","type":"quantitative"}}},
{"data":{"name":"aSig"},"transform":[{"filter":"datum.p=='led10'&&datum.h==0"}],"mark":{"type":"text","text":"*","color":"#FF2A2A","fontSize":11,"dy":-1},"encoding":{"x":{"field":"c","type":"nominal","title":null},"y":{"field":"y","type":"quantitative"}}}
]}
],
"columns":2,"align":"each","spacing":{"row":40,"column":22},"bounds":"flush",
"title":{"text":"A","anchor":"start","fontSize":17,"dx":-7,"dy":23,"offset":0}
},
{
"vconcat":[
{
"concat":[
{"width":164,"height":180,"title":{"text":"B","anchor":"start","frame":"bounds","fontSize":17,"offset":0,"dx":22,"dy":17},
"layer":[
{"data":{"name":"ocr"},"mark":{"type":"errorbar","ticks":{"size":4},"thickness":1,"color":"#9a9a9a"},"encoding":{"x":{"field":"t","type":"quantitative","title":"Time (min)"},"y":{"field":"v","type":"quantitative","title":"OCR (pmol/min/μg protein)"},"yError":{"field":"e"}}},
{"data":{"name":"ocr"},"mark":{"type":"line","strokeWidth":1.4},"encoding":{
"x":{"field":"t","type":"quantitative","title":"Time (min)","scale":{"domain":[0,94],"nice":false},"axis":{"values":[0,10,20,30,40,50,60,70,80,90],"tickCount":30,"format":"d","labelFontSize":8,"titleFontSize":9.5,"titlePadding":3,"labelOverlap":false}},
"y":{"field":"v","type":"quantitative","title":"OCR (pmol/min/μg protein)","scale":{"domain":[0,400],"nice":false},"axis":{"values":[0,50,100,150,200,250,300,350,400],"tickCount":30,"format":"d","labelFontSize":8,"titleFontSize":10.5,"titlePadding":3,"labelOverlap":false}},
"color":{"field":"s","type":"nominal","scale":{"domain":["day7 IBMX","day7 Tro+T3","day7 IBMX+Tro","day10 IBMX","day10 Tro+T3","day10 IBMX+Tro"],"range":["#C0C0C0","#FF4D4D","#2B2BFF","#9E9E9E","#E8302A","#0000D8"]},
"legend":{"title":null,"orient":"none","legendX":82,"legendY":-38,"symbolType":"M-3.3,0H3.3M-0.8,0A0.8,0.8,0,1,1,0.8,0A0.8,0.8,0,1,1,-0.8,0Z","symbolSize":36,"symbolStrokeWidth":1.4,"labelFontSize":8.5,"labelOffset":8,"rowPadding":0,"padding":4}},
"strokeDash":{"field":"s","type":"nominal","scale":{"domain":["day7 IBMX","day7 Tro+T3","day7 IBMX+Tro","day10 IBMX","day10 Tro+T3","day10 IBMX+Tro"],"range":[[2,2],[2,2],[2,2],[1,0],[1,0],[1,0]]}}}},
{"data":{"name":"ocr"},"mark":{"type":"point","filled":true,"size":20,"strokeWidth":1,"opacity":1},"encoding":{"x":{"field":"t","type":"quantitative"},"y":{"field":"v","type":"quantitative"},
"fill":{"field":"s","type":"nominal","scale":{"domain":["day7 IBMX","day7 Tro+T3","day7 IBMX+Tro","day10 IBMX","day10 Tro+T3","day10 IBMX+Tro"],"range":["#C0C0C0","#FF4D4D","#2B2BFF","#DADADA","#E8302A","#0000D8"]},"legend":null},
"stroke":{"field":"s","type":"nominal","scale":{"domain":["day7 IBMX","day7 Tro+T3","day7 IBMX+Tro","day10 IBMX","day10 Tro+T3","day10 IBMX+Tro"],"range":["#C0C0C0","#FF4D4D","#2B2BFF","#707070","#7A1010","#00006A"]},"legend":null}}},
{"data":{"name":"ann"},"transform":[{"filter":"datum.p=='B'&&datum.l!='↓'"}],"mark":{"type":"text","fontSize":9.5,"fontWeight":"bold","color":"#000"},"encoding":{"x":{"field":"t","type":"quantitative"},"y":{"field":"v","type":"quantitative"},"text":{"field":"l"}}},
{"data":{"name":"ann"},"transform":[{"filter":"datum.p=='B'&&datum.l=='↓'"}],"mark":{"type":"text","fontSize":13,"fontWeight":"bold","color":"#000"},"encoding":{"x":{"field":"t","type":"quantitative"},"y":{"field":"v","type":"quantitative"},"text":{"field":"l"}}}
]},
{"width":170,"height":180,"title":{"text":"C","anchor":"start","frame":"bounds","fontSize":17,"offset":0,"dx":-2,"dy":17},
"layer":[
{"data":{"name":"ecar"},"mark":{"type":"errorbar","ticks":{"size":4},"thickness":1,"color":"#9a9a9a"},"encoding":{"x":{"field":"t","type":"quantitative","title":"Time (min)"},"y":{"field":"v","type":"quantitative","title":"ECAR (mpH/min/μg protein)"},"yError":{"field":"e"}}},
{"data":{"name":"ecar"},"mark":{"type":"line","strokeWidth":1.4},"encoding":{
"x":{"field":"t","type":"quantitative","title":"Time (min)","scale":{"domain":[0,94],"nice":false},"axis":{"values":[0,10,20,30,40,50,60,70,80,90],"tickCount":30,"format":"d","labelFontSize":8,"titleFontSize":9.5,"titlePadding":3,"labelOverlap":false}},
"y":{"field":"v","type":"quantitative","title":"ECAR (mpH/min/μg protein)","scale":{"domain":[0,45],"nice":false},"axis":{"values":[0,5,10,15,20,25,30,35,40,45],"tickCount":30,"format":"d","labelFontSize":8,"titleFontSize":12.5,"titlePadding":4,"labelOverlap":false}},
"color":{"field":"s","type":"nominal","scale":{"domain":["day7 IBMX","day7 Tro+T3","day7 IBMX+Tro","day10 IBMX","day10 Tro+T3","day10 IBMX+Tro"],"range":["#C0C0C0","#FF4D4D","#2B2BFF","#9E9E9E","#E8302A","#0000D8"]},
"legend":{"title":null,"orient":"none","legendX":74,"legendY":-38,"symbolType":"M-3.3,0H3.3M-0.8,0A0.8,0.8,0,1,1,0.8,0A0.8,0.8,0,1,1,-0.8,0Z","symbolSize":36,"symbolStrokeWidth":1.4,"labelFontSize":8.5,"labelOffset":8,"rowPadding":0,"padding":4}},
"strokeDash":{"field":"s","type":"nominal","scale":{"domain":["day7 IBMX","day7 Tro+T3","day7 IBMX+Tro","day10 IBMX","day10 Tro+T3","day10 IBMX+Tro"],"range":[[2,2],[2,2],[2,2],[1,0],[1,0],[1,0]]}}}},
{"data":{"name":"ecar"},"mark":{"type":"point","filled":true,"size":20,"strokeWidth":1,"opacity":1},"encoding":{"x":{"field":"t","type":"quantitative"},"y":{"field":"v","type":"quantitative"},
"fill":{"field":"s","type":"nominal","scale":{"domain":["day7 IBMX","day7 Tro+T3","day7 IBMX+Tro","day10 IBMX","day10 Tro+T3","day10 IBMX+Tro"],"range":["#C0C0C0","#FF4D4D","#2B2BFF","#DADADA","#E8302A","#0000D8"]},"legend":null},
"stroke":{"field":"s","type":"nominal","scale":{"domain":["day7 IBMX","day7 Tro+T3","day7 IBMX+Tro","day10 IBMX","day10 Tro+T3","day10 IBMX+Tro"],"range":["#C0C0C0","#FF4D4D","#2B2BFF","#707070","#7A1010","#00006A"]},"legend":null}}},
{"data":{"name":"ann"},"transform":[{"filter":"datum.p=='C'&&datum.l!='↓'"}],"mark":{"type":"text","fontSize":9.5,"fontWeight":"bold","color":"#000"},"encoding":{"x":{"field":"t","type":"quantitative"},"y":{"field":"v","type":"quantitative"},"text":{"field":"l"}}},
{"data":{"name":"ann"},"transform":[{"filter":"datum.p=='C'&&datum.l=='↓'"}],"mark":{"type":"text","fontSize":13,"fontWeight":"bold","color":"#000"},"encoding":{"x":{"field":"t","type":"quantitative"},"y":{"field":"v","type":"quantitative"},"text":{"field":"l"}}}
]}
],
"columns":2,"align":"each","spacing":72,"bounds":"flush",
"resolve":{"scale":{"color":"independent","strokeDash":"independent","fill":"independent","stroke":"independent"},"legend":{"color":"independent","strokeDash":"independent"}}
},
{
"concat":[
{"width":140,"height":135,"title":{"text":"Basal OCR","fontSize":14,"offset":1,"frame":"group"},
"layer":[
{"data":{"name":"dBar"},"transform":[{"filter":"datum.p=='bocr'"}],"mark":{"type":"bar","stroke":"#000","strokeWidth":2},
"encoding":{"x":{"field":"g","type":"nominal","title":null,"scale":{"domain":["d7_IBMX","d7_TroT3","d7_IBMXTro","d10_IBMX","d10_TroT3","d10_IBMXTro"],"paddingInner":0.36,"paddingOuter":0.3,"align":0.8},"axis":{"labelExpr":"datum.value=='d7_TroT3'?'day7':datum.value=='d10_TroT3'?'day10':''","labelFontSize":13,"labelPadding":10,"tickSize":5,"domainWidth":1.5,"tickWidth":1.5,"labelOverlap":false}},
"y":{"field":"m","type":"quantitative","title":"(pmol/min/μg protein)","scale":{"domain":[0,150],"nice":false},"axis":{"values":[0,50,100,150],"tickCount":30,"format":"d","labelFontSize":10,"tickSize":5,"titleFontSize":11,"titlePadding":4,"domainWidth":1.5,"tickWidth":1.5,"labelPadding":2,"labelOverlap":false}},
"color":{"field":"grp","type":"nominal","scale":{"domain":["IBMX","Tro+T3","IBMX+Tro"],"range":["#D3D3D3","#F44242","#0B0BEF"]},
"legend":{"title":null,"orient":"none","legendX":-22,"legendY":-53,"direction":"horizontal","columns":3,"symbolType":"square","symbolSize":110,"symbolStrokeColor":"#000","symbolStrokeWidth":1.2,"labelFontSize":11.5,"labelOffset":5,"columnPadding":12,"padding":3,"encode":{"symbols":{"update":{"stroke":{"value":"#000"},"strokeWidth":{"value":1.2}}}}}}}},
{"data":{"name":"dBar"},"transform":[{"filter":"datum.p=='bocr'"}],"mark":{"type":"errorbar","ticks":{"size":9},"color":"#333","thickness":1.2},"encoding":{"x":{"field":"g","type":"nominal","title":null},"y":{"field":"m","type":"quantitative","title":"(pmol/min/μg protein)"},"yError":{"field":"s"}}},
{"data":{"name":"dPt"},"transform":[{"filter":"datum.p=='bocr'"}],"mark":{"type":"circle","color":"#000","size":38,"opacity":1},"encoding":{"x":{"field":"g","type":"nominal","title":null},"xOffset":{"field":"r","type":"nominal"},"y":{"field":"v","type":"quantitative"}}},
{"data":{"name":"grp"},"mark":{"type":"rule","color":"#000","strokeWidth":2.2,"yOffset":12,"xOffset":-7,"x2Offset":7},"encoding":{"x":{"field":"a","type":"nominal","title":null},"x2":{"field":"b"},"y":{"datum":0}}},
{"data":{"name":"dSig"},"transform":[{"filter":"datum.p=='bocr'"}],"mark":{"type":"rule","color":"#999","strokeWidth":1,"xOffset":2,"x2Offset":-2},"encoding":{"x":{"field":"a","type":"nominal","title":null},"x2":{"field":"b"},"y":{"field":"y","type":"quantitative"}}},
{"data":{"name":"dSig"},"transform":[{"filter":"datum.p=='bocr'&&datum.h==0"}],"mark":{"type":"text","text":"*","color":"#FF2A2A","fontSize":13,"dy":-1},"encoding":{"x":{"field":"c","type":"nominal","title":null},"y":{"field":"y","type":"quantitative"}}}
]},
{"width":137,"height":135,"title":{"text":"Maximal respiration","fontSize":14,"offset":8,"frame":"group"},
"layer":[
{"data":{"name":"dBar"},"transform":[{"filter":"datum.p=='maxr'"}],"mark":{"type":"bar","stroke":"#000","strokeWidth":2},
"encoding":{"x":{"field":"g","type":"nominal","title":null,"scale":{"domain":["d7_IBMX","d7_TroT3","d7_IBMXTro","d10_IBMX","d10_TroT3","d10_IBMXTro"],"paddingInner":0.36,"paddingOuter":0.3,"align":0.6},"axis":{"labelExpr":"datum.value=='d7_TroT3'?'day7':datum.value=='d10_TroT3'?'day10':''","labelFontSize":13,"labelPadding":10,"tickSize":5,"domainWidth":1.5,"tickWidth":1.5,"labelOverlap":false}},
"y":{"field":"m","type":"quantitative","title":"(pmol/min/μg protein)","scale":{"domain":[0,500],"nice":false},"axis":{"values":[0,100,200,300,400,500],"tickCount":30,"format":"d","labelFontSize":10,"tickSize":5,"titleFontSize":11,"titlePadding":4,"domainWidth":1.5,"tickWidth":1.5,"labelPadding":2,"labelOverlap":false}},
"color":{"field":"grp","type":"nominal","scale":{"domain":["IBMX","Tro+T3","IBMX+Tro"],"range":["#D3D3D3","#F44242","#0B0BEF"]}}}},
{"data":{"name":"dBar"},"transform":[{"filter":"datum.p=='maxr'"}],"mark":{"type":"errorbar","ticks":{"size":9},"color":"#333","thickness":1.2},"encoding":{"x":{"field":"g","type":"nominal","title":null},"y":{"field":"m","type":"quantitative","title":"(pmol/min/μg protein)"},"yError":{"field":"s"}}},
{"data":{"name":"dPt"},"transform":[{"filter":"datum.p=='maxr'"}],"mark":{"type":"circle","color":"#000","size":38,"opacity":1},"encoding":{"x":{"field":"g","type":"nominal","title":null},"xOffset":{"field":"r","type":"nominal"},"y":{"field":"v","type":"quantitative"}}},
{"data":{"name":"grp"},"mark":{"type":"rule","color":"#000","strokeWidth":2.2,"yOffset":12,"xOffset":-7,"x2Offset":7},"encoding":{"x":{"field":"a","type":"nominal","title":null},"x2":{"field":"b"},"y":{"datum":0}}},
{"data":{"name":"dSig"},"transform":[{"filter":"datum.p=='maxr'"}],"mark":{"type":"rule","color":"#999","strokeWidth":1,"xOffset":2,"x2Offset":-2},"encoding":{"x":{"field":"a","type":"nominal","title":null},"x2":{"field":"b"},"y":{"field":"y","type":"quantitative"}}},
{"data":{"name":"dSig"},"transform":[{"filter":"datum.p=='maxr'&&datum.h==0"}],"mark":{"type":"text","text":"*","color":"#FF2A2A","fontSize":13,"dy":-1},"encoding":{"x":{"field":"c","type":"nominal","title":null},"y":{"field":"y","type":"quantitative"}}},
{"data":{"name":"dSig"},"transform":[{"filter":"datum.p=='maxr'&&datum.h==1"}],"mark":{"type":"text","text":"*","color":"#FF2A2A","fontSize":13,"dy":-1,"dx":11},"encoding":{"x":{"field":"c","type":"nominal","title":null},"y":{"field":"y","type":"quantitative"}}}
]},
{"width":140,"height":126,"title":{"text":"Basal ECAR","fontSize":14,"offset":3,"frame":"group"},
"layer":[
{"data":{"name":"dBar"},"transform":[{"filter":"datum.p=='becar'"}],"mark":{"type":"bar","stroke":"#000","strokeWidth":2},
"encoding":{"x":{"field":"g","type":"nominal","title":null,"scale":{"domain":["d7_IBMX","d7_TroT3","d7_IBMXTro","d10_IBMX","d10_TroT3","d10_IBMXTro"],"paddingInner":0.36,"paddingOuter":0.3,"align":0.8},"axis":{"labelExpr":"datum.value=='d7_TroT3'?'day7':datum.value=='d10_TroT3'?'day10':''","labelFontSize":13,"labelPadding":12,"tickSize":5,"domainWidth":1.5,"tickWidth":1.5,"labelOverlap":false}},
"y":{"field":"m","type":"quantitative","title":"(mpHl/min/μg protein)","scale":{"domain":[0,10],"nice":false},"axis":{"values":[0,2,4,6,8,10],"tickCount":30,"format":"d","labelFontSize":10,"tickSize":5,"titleFontSize":11,"titlePadding":4,"domainWidth":1.5,"tickWidth":1.5,"labelPadding":2,"labelOverlap":false}},
"color":{"field":"grp","type":"nominal","scale":{"domain":["IBMX","Tro+T3","IBMX+Tro"],"range":["#D3D3D3","#F44242","#0B0BEF"]}}}},
{"data":{"name":"dBar"},"transform":[{"filter":"datum.p=='becar'"}],"mark":{"type":"errorbar","ticks":{"size":9},"color":"#333","thickness":1.2},"encoding":{"x":{"field":"g","type":"nominal","title":null},"y":{"field":"m","type":"quantitative","title":"(mpHl/min/μg protein)"},"yError":{"field":"s"}}},
{"data":{"name":"dPt"},"transform":[{"filter":"datum.p=='becar'"}],"mark":{"type":"circle","color":"#000","size":38,"opacity":1},"encoding":{"x":{"field":"g","type":"nominal","title":null},"xOffset":{"field":"r","type":"nominal"},"y":{"field":"v","type":"quantitative"}}},
{"data":{"name":"grp"},"mark":{"type":"rule","color":"#000","strokeWidth":2.2,"yOffset":14,"xOffset":-7,"x2Offset":7},"encoding":{"x":{"field":"a","type":"nominal","title":null},"x2":{"field":"b"},"y":{"datum":0}}}
]},
{"width":137,"height":126,"title":{"text":"Glycolytic capacity","fontSize":14,"offset":8,"frame":"group"},
"layer":[
{"data":{"name":"dBar"},"transform":[{"filter":"datum.p=='glyc'"}],"mark":{"type":"bar","stroke":"#000","strokeWidth":2},
"encoding":{"x":{"field":"g","type":"nominal","title":null,"scale":{"domain":["d7_IBMX","d7_TroT3","d7_IBMXTro","d10_IBMX","d10_TroT3","d10_IBMXTro"],"paddingInner":0.36,"paddingOuter":0.3,"align":0.6},"axis":{"labelExpr":"datum.value=='d7_TroT3'?'day7':datum.value=='d10_TroT3'?'day10':''","labelFontSize":13,"labelPadding":12,"tickSize":5,"domainWidth":1.5,"tickWidth":1.5,"labelOverlap":false}},
"y":{"field":"m","type":"quantitative","title":"(mpHl/min/μg protein)","scale":{"domain":[0,30],"nice":false},"axis":{"values":[0,10,20,30],"tickCount":30,"format":"d","labelFontSize":10,"tickSize":5,"titleFontSize":11,"titlePadding":4,"domainWidth":1.5,"tickWidth":1.5,"labelPadding":2,"labelOverlap":false}},
"color":{"field":"grp","type":"nominal","scale":{"domain":["IBMX","Tro+T3","IBMX+Tro"],"range":["#D3D3D3","#F44242","#0B0BEF"]}}}},
{"data":{"name":"dBar"},"transform":[{"filter":"datum.p=='glyc'"}],"mark":{"type":"errorbar","ticks":{"size":9},"color":"#333","thickness":1.2},"encoding":{"x":{"field":"g","type":"nominal","title":null},"y":{"field":"m","type":"quantitative","title":"(mpHl/min/μg protein)"},"yError":{"field":"s"}}},
{"data":{"name":"dPt"},"transform":[{"filter":"datum.p=='glyc'"}],"mark":{"type":"circle","color":"#000","size":38,"opacity":1},"encoding":{"x":{"field":"g","type":"nominal","title":null},"xOffset":{"field":"r","type":"nominal"},"y":{"field":"v","type":"quantitative"}}},
{"data":{"name":"grp"},"mark":{"type":"rule","color":"#000","strokeWidth":2.2,"yOffset":14,"xOffset":-7,"x2Offset":7},"encoding":{"x":{"field":"a","type":"nominal","title":null},"x2":{"field":"b"},"y":{"datum":0}}},
{"data":{"name":"dSig"},"transform":[{"filter":"datum.p=='glyc'"}],"mark":{"type":"rule","color":"#999","strokeWidth":1,"xOffset":2,"x2Offset":-2},"encoding":{"x":{"field":"a","type":"nominal","title":null},"x2":{"field":"b"},"y":{"field":"y","type":"quantitative"}}},
{"data":{"name":"dSig"},"transform":[{"filter":"datum.p=='glyc'&&datum.h==0"}],"mark":{"type":"text","text":"*","color":"#FF2A2A","fontSize":13,"dy":-1},"encoding":{"x":{"field":"c","type":"nominal","title":null},"y":{"field":"y","type":"quantitative"}}}
]}
],
"columns":2,"align":"each","spacing":{"row":71,"column":82},"bounds":"flush",
"title":{"text":"D","anchor":"start","fontSize":17,"dx":-19,"dy":16,"offset":0}
}
],
"spacing":273,"bounds":"flush",
"resolve":{"scale":{"color":"independent"},"legend":{"color":"independent"}}
}
],
"spacing":256,"bounds":"flush",
"resolve":{"scale":{"color":"independent","xOffset":"independent"},"legend":{"color":"independent"}}
}
